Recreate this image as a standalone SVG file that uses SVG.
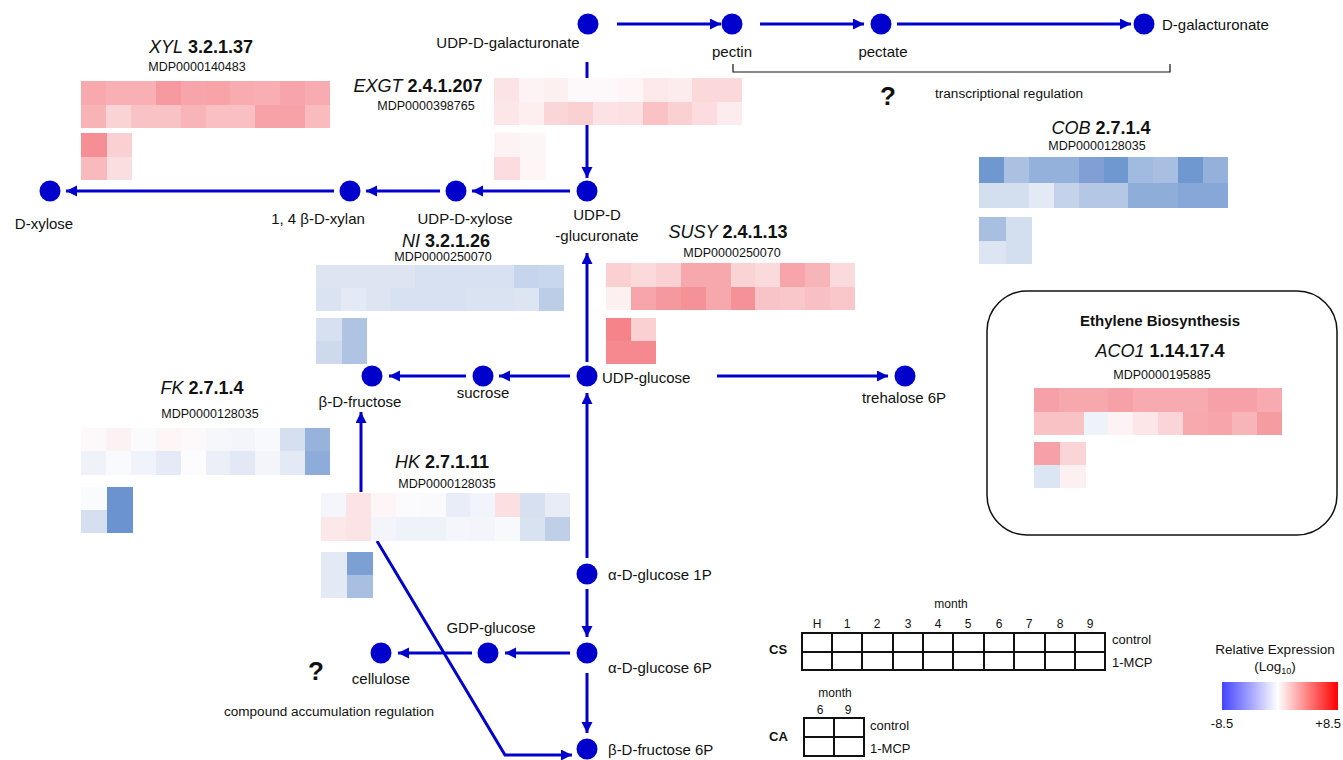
<svg xmlns="http://www.w3.org/2000/svg" width="1343" height="760" viewBox="0 0 1343 760">
<style>
text{font-family:"Liberation Sans",Arial,sans-serif;fill:#111}
.lbl{font-size:15px}
.ttl{font-size:18px}
.mdp{font-size:12.5px}
.it{font-style:italic}
.bd{font-weight:bold}
.con{stroke:#0000cc;stroke-width:3;fill:none}
.arr{marker-end:url(#ah)}
.node{fill:#0000cc}
.hm rect{shape-rendering:crispEdges}
.grid{stroke:#111;stroke-width:1.4;fill:none;shape-rendering:crispEdges}
.sm{font-size:12px}
.q{font-size:26px;font-weight:bold}
</style>
<defs>
<marker id="ah" markerUnits="userSpaceOnUse" markerWidth="12" markerHeight="12" refX="11" refY="5.5" orient="auto">
<path d="M0,0 L11,5.5 L0,11 z" fill="#0000cc"/>
</marker>
<linearGradient id="lg" x1="0" x2="1" y1="0" y2="0">
<stop offset="0" stop-color="#4444ff"/>
<stop offset="0.48" stop-color="#ffffff"/>
<stop offset="1" stop-color="#ff0000"/>
</linearGradient>
</defs>

<g id="connectors">
<path class="con arr" d="M617,24 H721"/>
<path class="con arr" d="M760,24 H864"/>
<path class="con arr" d="M897,24 H1131"/>
<path d="M733,64 V72 H1170 V64" stroke="#111" stroke-width="1.2" fill="none"/>
<path class="con arr" d="M587,62 V178"/>
<path class="con arr" d="M570,191 H472"/>
<path class="con arr" d="M440,191 H366"/>
<path class="con arr" d="M334,191 H66"/>
<path class="con arr" d="M587,362 V253"/>
<path class="con arr" d="M570,376 H499"/>
<path class="con arr" d="M466,376 H389"/>
<path class="con arr" d="M717,376 H888"/>
<path class="con arr" d="M587,558 V393"/>
<path class="con arr" d="M587,589 V637"/>
<path class="con arr" d="M570,653 H505"/>
<path class="con arr" d="M472,653 H398"/>
<path class="con arr" d="M587,673 V733"/>
<path class="con arr" d="M361,492 V412"/>
<path class="con arr" d="M377,541 L505,755 H572"/>
</g>

<g id="node-udp-galacturonate"><circle class="node" cx="588" cy="24" r="10.5"/><text class="lbl" x="508" y="48" text-anchor="middle">UDP-D-galacturonate</text></g>
<g id="node-pectin"><circle class="node" cx="732" cy="24" r="10.5"/><text class="lbl" x="732" y="57" text-anchor="middle">pectin</text></g>
<g id="node-pectate"><circle class="node" cx="881" cy="24" r="10.5"/><text class="lbl" x="883" y="57" text-anchor="middle">pectate</text></g>
<g id="node-d-galacturonate"><circle class="node" cx="1144" cy="24" r="10.5"/><text class="lbl" x="1162" y="30">D-galacturonate</text></g>
<g id="node-udp-glucuronate"><circle class="node" cx="587" cy="191" r="10.5"/><text class="lbl" x="597" y="220" text-anchor="middle">UDP-D</text><text class="lbl" x="597" y="241" text-anchor="middle">-glucuronate</text></g>
<g id="node-udp-xylose"><circle class="node" cx="456" cy="191" r="10.5"/><text class="lbl" x="465" y="224" text-anchor="middle">UDP-D-xylose</text></g>
<g id="node-xylan"><circle class="node" cx="350" cy="191" r="10.5"/><text class="lbl" x="318" y="224" text-anchor="middle">1, 4 β-D-xylan</text></g>
<g id="node-d-xylose"><circle class="node" cx="50" cy="191" r="10.5"/><text class="lbl" x="44" y="229" text-anchor="middle">D-xylose</text></g>
<g id="node-udp-glucose"><circle class="node" cx="587" cy="376" r="10.5"/><text class="lbl" x="602" y="383">UDP-glucose</text></g>
<g id="node-sucrose"><circle class="node" cx="483" cy="376" r="10.5"/><text class="lbl" x="483" y="398" text-anchor="middle">sucrose</text></g>
<g id="node-fructose"><circle class="node" cx="372" cy="376" r="10.5"/><text class="lbl" x="360" y="407" text-anchor="middle">β-D-fructose</text></g>
<g id="node-trehalose"><circle class="node" cx="905" cy="376" r="10.5"/><text class="lbl" x="904" y="403" text-anchor="middle">trehalose 6P</text></g>
<g id="node-glucose1p"><circle class="node" cx="587" cy="574" r="10.5"/><text class="lbl" x="608" y="580">α-D-glucose 1P</text></g>
<g id="node-glucose6p"><circle class="node" cx="587" cy="653" r="10.5"/><text class="lbl" x="608" y="673">α-D-glucose 6P</text></g>
<g id="node-gdp-glucose"><circle class="node" cx="488" cy="653" r="10.5"/><text class="lbl" x="491" y="633" text-anchor="middle">GDP-glucose</text></g>
<g id="node-cellulose"><circle class="node" cx="381" cy="653" r="10.5"/><text class="lbl" x="381" y="684" text-anchor="middle">cellulose</text></g>
<g id="node-fructose6p"><circle class="node" cx="587" cy="749" r="10.5"/><text class="lbl" x="608" y="755">β-D-fructose 6P</text></g>

<g id="note-transcriptional"><text class="q" x="888" y="105" text-anchor="middle">?</text><text x="935" y="98" font-size="12.5" textLength="148" lengthAdjust="spacingAndGlyphs">transcriptional regulation</text></g>
<g id="note-compound"><text class="q" x="316" y="680" text-anchor="middle">?</text><text x="224" y="716" font-size="12.5" textLength="210" lengthAdjust="spacingAndGlyphs">compound accumulation regulation</text></g>

<g id="hm-xyl">
<text class="ttl" x="201" y="53" text-anchor="middle"><tspan class="it">XYL</tspan><tspan class="bd"> 3.2.1.37</tspan></text>
<text class="mdp" x="197" y="71" text-anchor="middle">MDP0000140483</text>
<g class="hm" transform="translate(81,81) scale(24.9,23.5)">
<rect x="0" y="0" width="1" height="1" fill="#f7a9ae"/><rect x="1" y="0" width="1" height="1" fill="#f8b0b5"/><rect x="2" y="0" width="1" height="1" fill="#f8b0b5"/><rect x="3" y="0" width="1" height="1" fill="#f69aa0"/><rect x="4" y="0" width="1" height="1" fill="#f7a5aa"/><rect x="5" y="0" width="1" height="1" fill="#f7a3a8"/><rect x="6" y="0" width="1" height="1" fill="#f8acb0"/><rect x="7" y="0" width="1" height="1" fill="#f8aeb2"/><rect x="8" y="0" width="1" height="1" fill="#f7a5aa"/><rect x="9" y="0" width="1" height="1" fill="#f8acb1"/>
<rect x="0" y="1" width="1" height="1" fill="#f8b3b7"/><rect x="1" y="1" width="1" height="1" fill="#fad3d5"/><rect x="2" y="1" width="1" height="1" fill="#f9c3c6"/><rect x="3" y="1" width="1" height="1" fill="#f9c3c6"/><rect x="4" y="1" width="1" height="1" fill="#f8b4b8"/><rect x="5" y="1" width="1" height="1" fill="#f9bfc2"/><rect x="6" y="1" width="1" height="1" fill="#f9bfc2"/><rect x="7" y="1" width="1" height="1" fill="#f7a2a7"/><rect x="8" y="1" width="1" height="1" fill="#f7a2a7"/><rect x="9" y="1" width="1" height="1" fill="#f9bbbe"/>
</g>
<g class="hm" transform="translate(81,133) scale(25.5,23.5)">
<rect x="0" y="0" width="1" height="1" fill="#f58f95"/><rect x="1" y="0" width="1" height="1" fill="#fad0d2"/><rect x="0" y="1" width="1" height="1" fill="#f8babd"/><rect x="1" y="1" width="1" height="1" fill="#fbdfe0"/>
</g>
</g>

<g id="hm-exgt">
<text class="ttl" x="418" y="92" text-anchor="middle"><tspan class="it">EXGT</tspan><tspan class="bd"> 2.4.1.207</tspan></text>
<text class="mdp" x="426" y="110" text-anchor="middle">MDP0000398765</text>
<g class="hm" transform="translate(494,78) scale(24.8,23.5)">
<rect x="0" y="0" width="1" height="1" fill="#fce4e6"/><rect x="1" y="0" width="1" height="1" fill="#fdf3f4"/><rect x="2" y="0" width="1" height="1" fill="#fdf0f1"/><rect x="3" y="0" width="1" height="1" fill="#fdf8f9"/><rect x="4" y="0" width="1" height="1" fill="#fdf8f9"/><rect x="5" y="0" width="1" height="1" fill="#fdf5f6"/><rect x="6" y="0" width="1" height="1" fill="#fde9ea"/><rect x="7" y="0" width="1" height="1" fill="#fdeced"/><rect x="8" y="0" width="1" height="1" fill="#fbd9db"/><rect x="9" y="0" width="1" height="1" fill="#fbd9db"/>
<rect x="0" y="1" width="1" height="1" fill="#fce6e7"/><rect x="1" y="1" width="1" height="1" fill="#fdeeef"/><rect x="2" y="1" width="1" height="1" fill="#fbd6d8"/><rect x="3" y="1" width="1" height="1" fill="#fbd0d3"/><rect x="4" y="1" width="1" height="1" fill="#fce2e4"/><rect x="5" y="1" width="1" height="1" fill="#fce1e3"/><rect x="6" y="1" width="1" height="1" fill="#fac2c5"/><rect x="7" y="1" width="1" height="1" fill="#fbd0d2"/><rect x="8" y="1" width="1" height="1" fill="#fcdcde"/><rect x="9" y="1" width="1" height="1" fill="#fdeced"/>
</g>
<g class="hm" transform="translate(494,133) scale(26,23.5)">
<rect x="0" y="0" width="1" height="1" fill="#fdf3f4"/><rect x="1" y="0" width="1" height="1" fill="#fdf6f7"/><rect x="0" y="1" width="1" height="1" fill="#fcdcde"/><rect x="1" y="1" width="1" height="1" fill="#fdf5f6"/>
</g>
</g>

<g id="hm-cob">
<text class="ttl" x="1101" y="134" text-anchor="middle"><tspan class="it">COB</tspan><tspan class="bd"> 2.7.1.4</tspan></text>
<text class="mdp" x="1097" y="150" text-anchor="middle">MDP0000128035</text>
<g class="hm" transform="translate(979,157) scale(24.9,25.5)">
<rect x="0" y="0" width="1" height="1" fill="#7098d0"/><rect x="1" y="0" width="1" height="1" fill="#abc1e2"/><rect x="2" y="0" width="1" height="1" fill="#94b1db"/><rect x="3" y="0" width="1" height="1" fill="#94b1db"/><rect x="4" y="0" width="1" height="1" fill="#819fd5"/><rect x="5" y="0" width="1" height="1" fill="#7098d0"/><rect x="6" y="0" width="1" height="1" fill="#a1badf"/><rect x="7" y="0" width="1" height="1" fill="#a9bfe1"/><rect x="8" y="0" width="1" height="1" fill="#7098d0"/><rect x="9" y="0" width="1" height="1" fill="#95b1db"/>
<rect x="0" y="1" width="1" height="1" fill="#d3deef"/><rect x="1" y="1" width="1" height="1" fill="#d3deef"/><rect x="2" y="1" width="1" height="1" fill="#e3e9f5"/><rect x="3" y="1" width="1" height="1" fill="#c4d3ea"/><rect x="4" y="1" width="1" height="1" fill="#b4c7e5"/><rect x="5" y="1" width="1" height="1" fill="#b4c7e5"/><rect x="6" y="1" width="1" height="1" fill="#8fadd9"/><rect x="7" y="1" width="1" height="1" fill="#8fadd9"/><rect x="8" y="1" width="1" height="1" fill="#86a7d7"/><rect x="9" y="1" width="1" height="1" fill="#86a7d7"/>
</g>
<g class="hm" transform="translate(979,217) scale(26.5,23.5)">
<rect x="0" y="0" width="1" height="1" fill="#a9bfe1"/><rect x="1" y="0" width="1" height="1" fill="#d3deef"/><rect x="0" y="1" width="1" height="1" fill="#dde5f3"/><rect x="1" y="1" width="1" height="1" fill="#d3deef"/>
</g>
</g>

<g id="hm-ni">
<text class="ttl" x="446" y="247" text-anchor="middle"><tspan class="it">NI</tspan><tspan class="bd"> 3.2.1.26</tspan></text>
<text class="mdp" x="443" y="261" text-anchor="middle">MDP0000250070</text>
<g class="hm" transform="translate(316,265) scale(24.8,22.8)">
<rect x="0" y="0" width="1" height="1" fill="#dde5f3"/><rect x="1" y="0" width="1" height="1" fill="#dde5f3"/><rect x="2" y="0" width="1" height="1" fill="#dde5f3"/><rect x="3" y="0" width="1" height="1" fill="#dde5f3"/><rect x="4" y="0" width="1" height="1" fill="#d8e1f1"/><rect x="5" y="0" width="1" height="1" fill="#d8e1f1"/><rect x="6" y="0" width="1" height="1" fill="#d8e1f1"/><rect x="7" y="0" width="1" height="1" fill="#d8e1f1"/><rect x="8" y="0" width="1" height="1" fill="#c6d5eb"/><rect x="9" y="0" width="1" height="1" fill="#c9d7ec"/>
<rect x="0" y="1" width="1" height="1" fill="#dae3f2"/><rect x="1" y="1" width="1" height="1" fill="#e3e9f5"/><rect x="2" y="1" width="1" height="1" fill="#dde5f3"/><rect x="3" y="1" width="1" height="1" fill="#d8e1f1"/><rect x="4" y="1" width="1" height="1" fill="#d8e1f1"/><rect x="5" y="1" width="1" height="1" fill="#d8e1f1"/><rect x="6" y="1" width="1" height="1" fill="#dae3f2"/><rect x="7" y="1" width="1" height="1" fill="#dae3f2"/><rect x="8" y="1" width="1" height="1" fill="#dde5f3"/><rect x="9" y="1" width="1" height="1" fill="#bccde8"/>
</g>
<g class="hm" transform="translate(316,318) scale(25.5,23)">
<rect x="0" y="0" width="1" height="1" fill="#d6e0f0"/><rect x="1" y="0" width="1" height="1" fill="#afc3e3"/><rect x="0" y="1" width="1" height="1" fill="#cdd9ed"/><rect x="1" y="1" width="1" height="1" fill="#afc3e3"/>
</g>
</g>

<g id="hm-susy">
<text class="ttl" x="728" y="238" text-anchor="middle"><tspan class="it">SUSY</tspan><tspan class="bd"> 2.4.1.13</tspan></text>
<text class="mdp" x="732" y="257" text-anchor="middle">MDP0000250070</text>
<g class="hm" transform="translate(606,263) scale(24.9,23.5)">
<rect x="0" y="0" width="1" height="1" fill="#fad0d2"/><rect x="1" y="0" width="1" height="1" fill="#fbdadc"/><rect x="2" y="0" width="1" height="1" fill="#fad0d2"/><rect x="3" y="0" width="1" height="1" fill="#f7a8ac"/><rect x="4" y="0" width="1" height="1" fill="#f7a8ac"/><rect x="5" y="0" width="1" height="1" fill="#fad3d5"/><rect x="6" y="0" width="1" height="1" fill="#fbdadc"/><rect x="7" y="0" width="1" height="1" fill="#f7a5aa"/><rect x="8" y="0" width="1" height="1" fill="#f8b5b9"/><rect x="9" y="0" width="1" height="1" fill="#fbdadc"/>
<rect x="0" y="1" width="1" height="1" fill="#fdf0f1"/><rect x="1" y="1" width="1" height="1" fill="#f7a5aa"/><rect x="2" y="1" width="1" height="1" fill="#f6999f"/><rect x="3" y="1" width="1" height="1" fill="#f59298"/><rect x="4" y="1" width="1" height="1" fill="#f7a8ac"/><rect x="5" y="1" width="1" height="1" fill="#f59298"/><rect x="6" y="1" width="1" height="1" fill="#f9c4c7"/><rect x="7" y="1" width="1" height="1" fill="#f9c7ca"/><rect x="8" y="1" width="1" height="1" fill="#f9c0c3"/><rect x="9" y="1" width="1" height="1" fill="#f9c7ca"/>
</g>
<g class="hm" transform="translate(606,318) scale(25,23)">
<rect x="0" y="0" width="1" height="1" fill="#f58389"/><rect x="1" y="0" width="1" height="1" fill="#fad0d2"/><rect x="0" y="1" width="1" height="1" fill="#f6898f"/><rect x="1" y="1" width="1" height="1" fill="#f6898f"/>
</g>
</g>

<g id="hm-fk">
<text class="ttl" x="202" y="394" text-anchor="middle"><tspan class="it">FK</tspan><tspan class="bd"> 2.7.1.4</tspan></text>
<text class="mdp" x="210" y="418" text-anchor="middle">MDP0000128035</text>
<g class="hm" transform="translate(81,428) scale(24.9,23.3)">
<rect x="0" y="0" width="1" height="1" fill="#fdf8f9"/><rect x="1" y="0" width="1" height="1" fill="#fdf2f3"/><rect x="2" y="0" width="1" height="1" fill="#fbfbfd"/><rect x="3" y="0" width="1" height="1" fill="#fdf5f6"/><rect x="4" y="0" width="1" height="1" fill="#fdf8f9"/><rect x="5" y="0" width="1" height="1" fill="#f5f7fb"/><rect x="6" y="0" width="1" height="1" fill="#f3f5fa"/><rect x="7" y="0" width="1" height="1" fill="#f8f9fc"/><rect x="8" y="0" width="1" height="1" fill="#d5dff0"/><rect x="9" y="0" width="1" height="1" fill="#97b3db"/>
<rect x="0" y="1" width="1" height="1" fill="#eff3f9"/><rect x="1" y="1" width="1" height="1" fill="#f9fafd"/><rect x="2" y="1" width="1" height="1" fill="#f0f3fa"/><rect x="3" y="1" width="1" height="1" fill="#e5ebf6"/><rect x="4" y="1" width="1" height="1" fill="#fcfcfe"/><rect x="5" y="1" width="1" height="1" fill="#eaeff8"/><rect x="6" y="1" width="1" height="1" fill="#e2e8f5"/><rect x="7" y="1" width="1" height="1" fill="#f3f5fa"/><rect x="8" y="1" width="1" height="1" fill="#e3e9f5"/><rect x="9" y="1" width="1" height="1" fill="#8eacd9"/>
</g>
<g class="hm" transform="translate(81,487) scale(26,23)">
<rect x="0" y="0" width="1" height="1" fill="#fafbfd"/><rect x="1" y="0" width="1" height="1" fill="#6a93cf"/><rect x="0" y="1" width="1" height="1" fill="#d5dff0"/><rect x="1" y="1" width="1" height="1" fill="#6a93cf"/>
</g>
</g>

<g id="hm-hk">
<text class="ttl" x="442" y="468" text-anchor="middle"><tspan class="it">HK</tspan><tspan class="bd"> 2.7.1.11</tspan></text>
<text class="mdp" x="447" y="488" text-anchor="middle">MDP0000128035</text>
<g class="hm" transform="translate(321,493) scale(24.9,24)">
<rect x="0" y="0" width="1" height="1" fill="#f5f6fb"/><rect x="1" y="0" width="1" height="1" fill="#fce4e6"/><rect x="2" y="0" width="1" height="1" fill="#fdf5f6"/><rect x="3" y="0" width="1" height="1" fill="#fbfbfd"/><rect x="4" y="0" width="1" height="1" fill="#fafafd"/><rect x="5" y="0" width="1" height="1" fill="#e8edf7"/><rect x="6" y="0" width="1" height="1" fill="#f1f4fa"/><rect x="7" y="0" width="1" height="1" fill="#fbdfe1"/><rect x="8" y="0" width="1" height="1" fill="#d6e0f0"/><rect x="9" y="0" width="1" height="1" fill="#e7ecf7"/>
<rect x="0" y="1" width="1" height="1" fill="#fce8e9"/><rect x="1" y="1" width="1" height="1" fill="#fce4e6"/><rect x="2" y="1" width="1" height="1" fill="#f3f5fa"/><rect x="3" y="1" width="1" height="1" fill="#eef2f9"/><rect x="4" y="1" width="1" height="1" fill="#eef2f9"/><rect x="5" y="1" width="1" height="1" fill="#f5f6fb"/><rect x="6" y="1" width="1" height="1" fill="#f3f5fa"/><rect x="7" y="1" width="1" height="1" fill="#f8f9fc"/><rect x="8" y="1" width="1" height="1" fill="#d8e2f1"/><rect x="9" y="1" width="1" height="1" fill="#bfcfe8"/>
</g>
<g class="hm" transform="translate(321,552) scale(26,23)">
<rect x="0" y="0" width="1" height="1" fill="#e3e9f5"/><rect x="1" y="0" width="1" height="1" fill="#7c9fd4"/><rect x="0" y="1" width="1" height="1" fill="#e3e9f5"/><rect x="1" y="1" width="1" height="1" fill="#a9bfe1"/>
</g>
</g>

<g id="ethylene-box">
<rect x="987" y="291" width="350" height="244" rx="40" ry="40" fill="none" stroke="#111" stroke-width="1.5"/>
<text x="1160" y="326" text-anchor="middle" font-size="15" font-weight="bold">Ethylene Biosynthesis</text>
<text class="ttl" x="1160" y="357" text-anchor="middle"><tspan class="it">ACO1</tspan><tspan class="bd"> 1.14.17.4</tspan></text>
<text class="mdp" x="1162" y="379" text-anchor="middle">MDP0000195885</text>
<g class="hm" transform="translate(1034,388) scale(24.8,23.5)">
<rect x="0" y="0" width="1" height="1" fill="#f6a1a7"/><rect x="1" y="0" width="1" height="1" fill="#f7a8ad"/><rect x="2" y="0" width="1" height="1" fill="#f7a8ad"/><rect x="3" y="0" width="1" height="1" fill="#f6a1a7"/><rect x="4" y="0" width="1" height="1" fill="#f7aaaf"/><rect x="5" y="0" width="1" height="1" fill="#f7aaaf"/><rect x="6" y="0" width="1" height="1" fill="#f7aaaf"/><rect x="7" y="0" width="1" height="1" fill="#f6a1a7"/><rect x="8" y="0" width="1" height="1" fill="#f6a1a7"/><rect x="9" y="0" width="1" height="1" fill="#f7aaaf"/>
<rect x="0" y="1" width="1" height="1" fill="#f9c3c6"/><rect x="1" y="1" width="1" height="1" fill="#f9c3c6"/><rect x="2" y="1" width="1" height="1" fill="#eef2f9"/><rect x="3" y="1" width="1" height="1" fill="#fdf3f4"/><rect x="4" y="1" width="1" height="1" fill="#fce6e7"/><rect x="5" y="1" width="1" height="1" fill="#fad4d6"/><rect x="6" y="1" width="1" height="1" fill="#f7a9ae"/><rect x="7" y="1" width="1" height="1" fill="#f7a5aa"/><rect x="8" y="1" width="1" height="1" fill="#f8b5b9"/><rect x="9" y="1" width="1" height="1" fill="#f59ca1"/>
</g>
<g class="hm" transform="translate(1034,442) scale(26,23)">
<rect x="0" y="0" width="1" height="1" fill="#f6a1a7"/><rect x="1" y="0" width="1" height="1" fill="#fad4d6"/><rect x="0" y="1" width="1" height="1" fill="#dce5f3"/><rect x="1" y="1" width="1" height="1" fill="#fdf0f1"/>
</g>
</g>

<g id="legend-cs">
<text class="sm" x="951" y="608" text-anchor="middle">month</text>
<g class="sm" text-anchor="middle">
<text x="817" y="628">H</text><text x="847" y="628">1</text><text x="877" y="628">2</text><text x="908" y="628">3</text><text x="938" y="628">4</text><text x="968" y="628">5</text><text x="999" y="628">6</text><text x="1029" y="628">7</text><text x="1060" y="628">8</text><text x="1090" y="628">9</text>
</g>
<text x="769" y="654" font-size="13" font-weight="bold">CS</text>
<rect class="grid" x="802" y="633" width="303" height="37"/>
<path class="grid" d="M802,652 H1105 M832,633 V670 M862,633 V670 M893,633 V670 M923,633 V670 M953,633 V670 M984,633 V670 M1014,633 V670 M1045,633 V670 M1075,633 V670"/>
<text x="1112" y="644" font-size="13">control</text>
<text x="1112" y="667" font-size="13">1-MCP</text>
</g>

<g id="legend-ca">
<text class="sm" x="835" y="697" text-anchor="middle">month</text>
<text class="sm" x="820" y="714" text-anchor="middle">6</text>
<text class="sm" x="848" y="714" text-anchor="middle">9</text>
<text x="769" y="741" font-size="13" font-weight="bold">CA</text>
<rect class="grid" x="804" y="718" width="60" height="38"/>
<path class="grid" d="M804,737 H864 M834,718 V756"/>
<text x="870" y="730" font-size="13">control</text>
<text x="870" y="753" font-size="13">1-MCP</text>
</g>

<g id="legend-color">
<text x="1275" y="654" font-size="13.5" text-anchor="middle">Relative Expression</text>
<text x="1275" y="671" font-size="13.5" text-anchor="middle">(Log<tspan font-size="9" dy="3">10</tspan><tspan dy="-3">)</tspan></text>
<rect x="1222" y="682" width="116" height="28" fill="url(#lg)"/>
<text x="1222" y="728" font-size="13" text-anchor="middle">-8.5</text>
<text x="1341" y="728" font-size="13" text-anchor="end">+8.5</text>
</g>
</svg>
